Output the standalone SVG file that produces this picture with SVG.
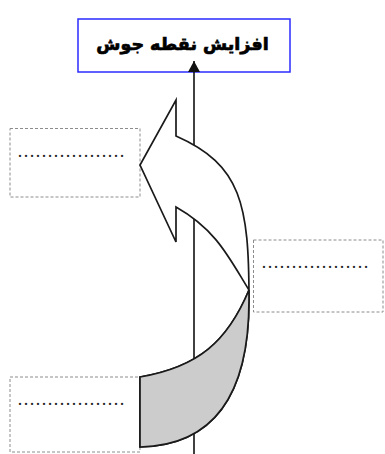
<svg xmlns="http://www.w3.org/2000/svg" width="385" height="454" viewBox="0 0 385 454">
<style>
.box{fill:none;stroke:#8c8c8c;stroke-width:1;stroke-dasharray:3 2}
.dots{font-family:"Liberation Serif",serif;font-size:18px;fill:#222}
.edge{stroke:#1a1a1a;stroke-width:1.7;stroke-linejoin:miter}
</style>
<defs>
<marker id="ah" markerWidth="12" markerHeight="12" refX="11" refY="6" orient="auto" markerUnits="userSpaceOnUse">
<path d="M0,0 L11,6 L0,12 Z" fill="#111"/>
</marker>
</defs>
<rect width="385" height="454" fill="#fff"/>
<g id="title">
<rect x="78" y="19" width="212" height="53" fill="#fff" stroke="#2b2bff" stroke-width="1.5"/>
<text x="182.5" y="50" text-anchor="middle" direction="rtl" font-family="'DejaVu Sans',sans-serif" font-weight="bold" font-size="17.5" fill="#000" stroke="#000" stroke-width="0.7">افزایش نقطه جوش</text>
</g>
<g id="box-left-top">
<rect class="box" x="10" y="128.5" width="130" height="68.5"/>
<text class="dots" x="17" y="157">………………</text>
</g>
<g id="box-right">
<rect class="box" x="253.5" y="240" width="129.5" height="72"/>
<text class="dots" x="261" y="268">………………</text>
</g>
<g id="box-left-bottom">
<rect class="box" x="10" y="377" width="130" height="75"/>
<text class="dots" x="17" y="405">………………</text>
</g>
<g id="connectors">
<line x1="194" y1="454" x2="194" y2="61" stroke="#111" stroke-width="1.6" marker-end="url(#ah)"/>
</g>
<g id="curved-arrow">
<path class="edge" fill="#fff" d="M176,136 C241.5,164.8 249,204.5 249,300 C249,372 229,445 140,447 L140,377 C198.3,367.1 227.4,341.6 249,290 C229.2,258.2 216.5,229.8 176,207 L176,242 L140,165 L176,100 Z"/>
<path class="edge" fill="#cccccc" d="M249,290 L249,300 C249,372 229,445 140,447 L140,377 C198.3,367.1 227.4,341.6 249,290 Z"/>
</g>
</svg>
